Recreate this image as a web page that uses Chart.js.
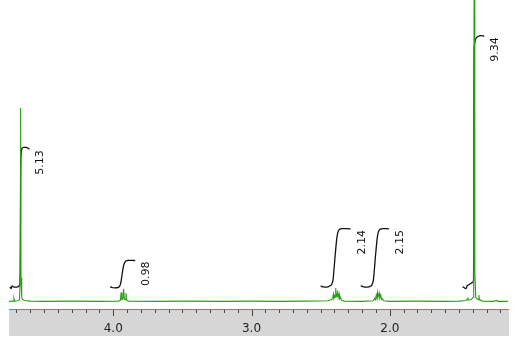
<!DOCTYPE html>
<html>
<head>
<meta charset="utf-8">
<script src="https://cdn.jsdelivr.net/npm/chart.js@4"></script>
<style>
html,body{margin:0;padding:0;background:#fff;}
canvas{display:block;}
</style>
</head>
<body>
<canvas id="c" width="519" height="350"></canvas>
<script>
// ---- data (chemical shift in ppm, relative intensity) ----
const axisMin = 1.145;
const axisMax = 4.754;
const tickLabels = ['4.0', '3.0', '2.0'];

const specPpm = [4.754,4.73,4.722,4.718,4.714,4.69,4.678,4.673,4.670,4.667,4.662,4.655,4.64,4.60,4.5,4.3,4.1,
  3.96,3.948,3.943,3.938,3.93,3.925,3.92,3.913,3.908,3.903,3.89,3.7,3.5,3.2,3.0,2.8,2.6,2.45,
  2.42,2.412,2.408,2.404,2.399,2.395,2.391,2.387,2.384,2.380,2.377,2.373,2.366,2.362,2.355,2.35,2.33,
  2.2,2.12,2.109,2.104,2.098,2.094,2.089,2.085,2.077,2.073,2.065,2.06,2.054,2.045,2.0,1.8,1.6,1.5,
  1.45,1.437,1.435,1.432,1.41,1.398,1.393,1.389,1.385,1.378,1.36,1.355,1.352,1.33,1.25,1.227,1.22,1.145];
const specInt = [0.2,0.3,0.3,1.2,0.3,0.4,0.8,8,64.2,8,1.5,0.8,0.5,0.3,0.2,0.3,0.2,
  0.3,0.6,3.2,0.8,1.0,4.4,0.9,0.8,3.0,0.6,0.3,0.2,0.3,0.2,0.3,0.2,0.3,0.4,
  0.8,1.5,2.6,1.2,2.0,1.6,4.6,1.8,3.0,2.0,3.8,1.5,2.6,1.0,1.5,0.6,0.3,
  0.2,0.4,1.2,0.8,2.2,1.4,3.2,1.6,3.0,1.3,2.3,0.9,1.2,0.4,0.2,0.3,0.2,0.3,
  0.5,1.0,1.5,0.6,0.8,1.5,10,160,10,1.5,0.8,2.3,0.8,0.3,0.2,0.5,0.2,0.2];

const int1Ppm = [4.746,4.741,4.737,4.732,4.725,4.71,4.69,4.677,4.674,4.672,4.670,4.668,4.665,4.660,4.65,4.63,4.605];
const int1Val = [5.0,4.5,4.6,5.3,5.1,4.9,5.0,5.5,6.5,20,40,47.5,49.8,50.8,51.2,51.2,50.6];
const int2Ppm = [4.022,4.01,3.99,3.965,3.955,3.947,3.938,3.928,3.918,3.908,3.895,3.86,3.841];
const int2Val = [5.1,4.8,4.7,4.8,5.2,6.0,8.5,11.5,13.0,13.6,13.8,13.8,13.7];
const int3Ppm = [2.50,2.48,2.455,2.435,2.418,2.41,2.403,2.396,2.389,2.382,2.374,2.365,2.345,2.31,2.283];
const int3Val = [5.3,5.0,4.9,5.3,6.0,7.5,11,15,18.5,21.5,23.3,24.0,24.3,24.3,24.2];
const int4Ppm = [2.210,2.19,2.165,2.14,2.127,2.118,2.111,2.104,2.097,2.09,2.082,2.072,2.05,2.02,2.005];
const int4Val = [5.4,5.0,4.9,5.2,5.9,7.5,11,15,18.5,21.5,23.3,24.0,24.3,24.3,24.2];
const int5Ppm = [1.473,1.46,1.449,1.44,1.425,1.413,1.400,1.394,1.392,1.391,1.390,1.387,1.38,1.365,1.34,1.317];
const int5Val = [5.1,4.7,4.4,5.4,5.8,6.2,6.5,7.5,30,70,83,85.5,87,87.8,88.2,88.0];
const integralLabels = ['5.13','0.98','2.14','2.15','9.34'];

// ---- build datasets ----
const toPts = (xs, ys) => xs.map((x, i) => ({x: x, y: ys[i]}));
const intSets = [[int1Ppm,int1Val],[int2Ppm,int2Val],[int3Ppm,int3Val],[int4Ppm,int4Val],[int5Ppm,int5Val]];

const datasets = [{
  data: toPts(specPpm, specInt),
  borderColor: 'rgb(44,158,22)',
  borderWidth: 1.1,
  pointRadius: 0,
  tension: 0
}];
intSets.forEach(s => datasets.push({
  data: toPts(s[0], s[1]),
  borderColor: '#111',
  borderWidth: 1.3,
  pointRadius: 0,
  cubicInterpolationMode: 'monotone'
}));

const decor = {
  id: 'decor',
  beforeDraw(chart) {
    const ctx = chart.ctx, a = chart.chartArea;
    ctx.save();
    ctx.fillStyle = '#d6d6d6';
    ctx.fillRect(a.left, a.bottom, a.right - a.left + 1, 27);
    ctx.restore();
  },
  afterDraw(chart) {
    const ctx = chart.ctx, a = chart.chartArea, xs = chart.scales.x, ys = chart.scales.y;
    ctx.save();
    // ticks
    ctx.strokeStyle = '#444';
    ctx.lineWidth = 1;
    for (let k = 12; k <= 47; k++) {
      const v = k / 10;
      const px = Math.round(xs.getPixelForValue(v)) + 0.5;
      const len = (k % 10 === 0) ? 7 : 4;
      ctx.beginPath();
      ctx.moveTo(px, a.bottom);
      ctx.lineTo(px, a.bottom + len);
      ctx.stroke();
    }
    // axis line
    ctx.strokeStyle = '#4a88dc';
    ctx.beginPath();
    ctx.moveTo(a.left, a.bottom + 0.5);
    ctx.lineTo(a.right + 1, a.bottom + 0.5);
    ctx.stroke();
    // integral labels
    ctx.fillStyle = '#111';
    ctx.font = '11px "DejaVu Sans", sans-serif';
    ctx.textAlign = 'right';
    ctx.textBaseline = 'middle';
    intSets.forEach((s, i) => {
      const n = s[0].length - 1;
      const px = xs.getPixelForValue(s[0][n]) + 11;
      const py = ys.getPixelForValue(s[1][n]) + 1;
      ctx.save();
      ctx.translate(px, py);
      ctx.rotate(-Math.PI / 2);
      ctx.fillText(integralLabels[i], 0, 0);
      ctx.restore();
    });
    ctx.restore();
  }
};

new Chart(document.getElementById('c'), {
  type: 'line',
  data: { datasets: datasets },
  options: {
    responsive: false,
    animation: false,
    devicePixelRatio: 1,
    layout: { padding: { left: 9, right: 11, top: 0, bottom: 0 } },
    plugins: { legend: { display: false }, tooltip: { enabled: false } },
    scales: {
      x: {
        type: 'linear',
        reverse: true,
        min: axisMin,
        max: axisMax,
        afterFit(scale) { scale.height = 41; },
        grid: { display: true, drawOnChartArea: false, drawTicks: true, tickLength: 7, color: 'transparent', tickColor: 'transparent' },
        border: { display: false },
        ticks: {
          stepSize: 0.1,
          autoSkip: false,
          maxRotation: 0,
          padding: 6,
          color: '#222',
          font: { family: '"DejaVu Sans", sans-serif', size: 12 },
          callback: (v) => {
            const lab = Number(v).toFixed(1);
            return (Math.abs(v - Math.round(v)) < 1e-6 && tickLabels.includes(lab)) ? lab : '';
          }
        }
      },
      y: {
        display: false,
        min: -2.32,
        max: 100
      }
    }
  },
  plugins: [decor]
});
</script>
</body>
</html>
